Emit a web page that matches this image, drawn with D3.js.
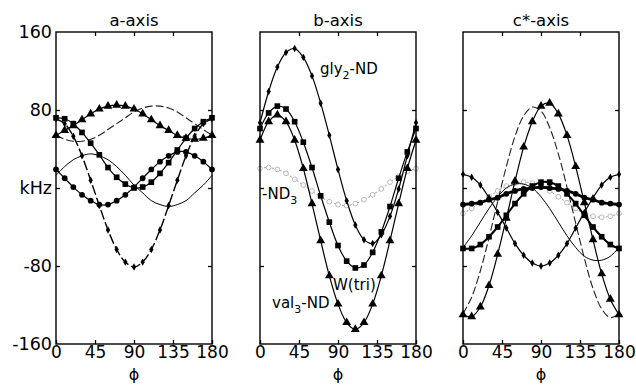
<!DOCTYPE html>
<html>
<head>
<meta charset="utf-8">
<script src="https://cdn.jsdelivr.net/npm/d3@7"></script>
<style>
  body { margin: 0; background: #fff; }
  text { font-family: "DejaVu Sans", sans-serif; fill: #000; }
</style>
</head>
<body>
<div id="chart"></div>
<script>
const width = 636;
const height = 385;

// rotation angle (deg) of every sample
const phi = [0, 10, 20, 30, 40, 50, 60, 70, 80, 90, 100, 110, 120, 130, 140, 150, 160, 170, 180];
const xTicks = [0, 45, 90, 135, 180];
const yTicks = [-160, -80, 0, 80, 160];
const yTickLabels = ["-160", "-80", "kHz", "80", "160"];
const panelTitles = ["a-axis", "b-axis", "c*-axis"];

// a-axis splittings (kHz)
const aTri   = [54, 59, 64, 70, 76, 81, 84, 85, 84, 81, 76, 70, 64, 59, 54, 51, 50, 51, 54];
const aDash  = [54, 50, 48, 48, 50, 54, 60, 66, 72, 78, 82, 84, 84, 82, 78, 72, 66, 60, 54];
const aSq    = [72, 71, 66, 57, 46, 34, 21, 11, 4, 0, 1, 6, 15, 26, 39, 51, 61, 68, 72];
const aCirc  = [19, 10, 1, -7, -13, -17, -17, -13, -7, 1, 10, 19, 27, 33, 37, 37, 33, 27, 19];
const aV     = [71, 66, 53, 33, 8, -18, -43, -63, -76, -81, -76, -63, -43, -18, 8, 33, 53, 66, 71];
const aThin  = [13, 22, 29, 33, 35, 33, 29, 22, 13, 3, -5, -13, -17, -19, -17, -13, -5, 3, 13];

// b-axis splittings (kHz)
const bGly   = [67, 99, 124, 139, 143, 134, 115, 87, 54, 19, -13, -38, -53, -57, -48, -29, -1, 33, 67];
const bSq    = [61, 77, 84, 81, 68, 47, 21, -8, -35, -59, -75, -82, -79, -66, -45, -19, 10, 37, 61];
const bTri   = [49, 68, 75, 68, 49, 20, -16, -54, -90, -119, -138, -145, -138, -119, -90, -54, -16, 20, 49];
const bOpen  = [20, 21, 19, 15, 9, 3, -3, -9, -14, -17, -18, -16, -12, -7, -1, 6, 12, 17, 20];

// c*-axis splittings (kHz)
const cTri   = [-130, -132, -122, -100, -68, -31, 7, 42, 68, 84, 87, 76, 54, 22, -15, -53, -88, -114, -130];
const cDash  = [-129, -112, -85, -51, -14, 22, 53, 74, 83, 79, 62, 35, 1, -36, -72, -103, -124, -133, -129];
const cDia   = [14, 11, 3, -10, -25, -41, -57, -69, -77, -80, -77, -69, -57, -41, -25, -10, 3, 11, 14];
const cSq    = [-62, -62, -58, -50, -40, -28, -16, -6, 2, 6, 6, 2, -6, -16, -28, -40, -50, -58, -62];
const cThick = [-17, -16, -15, -12, -10, -6, -3, -1, 0, 1, 0, -1, -3, -6, -10, -12, -15, -16, -17];
const cThin  = [-61, -49, -35, -21, -9, 0, 4, 4, 0, -9, -21, -35, -49, -61, -70, -74, -74, -70, -61];
const cOpen  = [-26, -21, -15, -9, -3, 2, 5, 6, 5, 2, -3, -9, -15, -21, -26, -29, -30, -29, -26];

// line / marker styles
const styles = {
  tri:   { stroke: "#000", sw: 1.2, dash: null, mark: "tri" },
  sq:    { stroke: "#000", sw: 1.2, dash: null, mark: "sq" },
  circ:  { stroke: "#000", sw: 1.2, dash: null, mark: "circ" },
  dot:   { stroke: "#000", sw: 1.2, dash: null, mark: "dot" },
  vdash: { stroke: "#000", sw: 1.4, dash: "10,3", mark: "dot" },
  dash:  { stroke: "#222", sw: 1.1, dash: "8,3", mark: null },
  thin:  { stroke: "#000", sw: 1, dash: null, mark: null },
  open:  { stroke: "#999", sw: 1, dash: "2,2", mark: "open" },
  thick: { stroke: "#000", sw: 2.8, dash: null, mark: "circ" },
  sqth:  { stroke: "#000", sw: 2, dash: null, mark: "sq" }
};

const panels = [
  { left: 56, series: [[aDash, "dash"], [aThin, "thin"], [aCirc, "circ"], [aSq, "sq"], [aV, "vdash"], [aTri, "tri"]] },
  { left: 260, series: [[bOpen, "open"], [bGly, "dot"], [bSq, "sq"], [bTri, "tri"]] },
  { left: 463, series: [[cOpen, "open"], [cDash, "dash"], [cThin, "thin"], [cThick, "thick"], [cSq, "sqth"], [cDia, "dot"], [cTri, "tri"]] }
];

const panelWidth = 156;

const y = d3.scaleLinear().domain([-160, 160]).range([344, 32]);

const svg = d3.select("#chart")
  .append("svg")
  .attr("width", width)
  .attr("height", height);

const symbols = {
  tri:  d3.symbol().type(d3.symbolTriangle).size(34),
  sq:   d3.symbol().type(d3.symbolSquare).size(32),
  circ: d3.symbol().type(d3.symbolCircle).size(26),
  dot:  d3.symbol().type(d3.symbolDiamond).size(16),
  open: d3.symbol().type(d3.symbolCircle).size(18)
};

panels.forEach(function(p, i) {
  const x = d3.scaleLinear().domain([0, 180]).range([p.left, p.left + panelWidth]);
  const g = svg.append("g");

  const line = d3.line()
    .x(function(d, k) { return x(phi[k]); })
    .y(function(d) { return y(d); })
    .curve(d3.curveCatmullRom);

  p.series.forEach(function(s) {
    const vals = s[0];
    const st = styles[s[1]];
    g.append("path")
      .attr("d", line(vals))
      .attr("fill", "none")
      .attr("stroke", st.stroke)
      .attr("stroke-width", st.sw)
      .attr("stroke-dasharray", st.dash);

    if (st.mark) {
      g.selectAll(null)
        .data(vals)
        .enter()
        .append("path")
        .attr("d", symbols[st.mark])
        .attr("transform", function(d, k) { return "translate(" + x(phi[k]) + "," + y(d) + ")"; })
        .attr("fill", st.mark == "open" ? "#fff" : "#000")
        .attr("stroke", st.mark == "open" ? "#aaa" : "none")
        .attr("stroke-width", 0.8);
    }
  });

  // frame
  g.append("rect")
    .attr("x", p.left)
    .attr("y", y(160))
    .attr("width", panelWidth)
    .attr("height", y(-160) - y(160))
    .attr("fill", "none")
    .attr("stroke", "#000")
    .attr("stroke-width", 1.4);

  // inward ticks
  const bottom = g.append("g")
    .attr("transform", "translate(0," + y(-160) + ")")
    .call(d3.axisBottom(x).tickValues(xTicks).tickSizeInner(-4).tickSizeOuter(0).tickPadding(2));
  bottom.select(".domain").remove();
  bottom.selectAll("text").style("font-size", "17px").style("font-family", "DejaVu Sans");

  g.append("g")
    .attr("transform", "translate(0," + y(160) + ")")
    .call(d3.axisTop(x).tickValues([45, 90, 135]).tickSizeInner(-4).tickSizeOuter(0).tickFormat(""))
    .select(".domain").remove();

  const leftAx = g.append("g")
    .attr("transform", "translate(" + p.left + ",0)")
    .call(d3.axisLeft(y).tickValues([-80, 0, 80]).tickSizeInner(-4).tickSizeOuter(0).tickFormat(""));
  leftAx.select(".domain").remove();

  g.append("g")
    .attr("transform", "translate(" + (p.left + panelWidth) + ",0)")
    .call(d3.axisRight(y).tickValues([-80, 0, 80]).tickSizeInner(-4).tickSizeOuter(0).tickFormat(""))
    .select(".domain").remove();

  g.selectAll(".tick line").attr("stroke-width", 1.3);

  // title
  g.append("text")
    .attr("x", p.left + panelWidth / 2)
    .attr("y", 26)
    .attr("text-anchor", "middle")
    .style("font-size", "16.5px")
    .text(panelTitles[i]);

  // phi label
  g.append("text")
    .attr("x", p.left + panelWidth / 2)
    .attr("y", 380)
    .attr("text-anchor", "middle")
    .style("font-size", "16px")
    .text("ϕ");
});

// y tick labels on the first panel only
svg.append("g")
  .selectAll("text")
  .data(yTicks)
  .enter()
  .append("text")
  .attr("x", 52)
  .attr("y", function(d) { return y(d); })
  .attr("dy", "0.36em")
  .attr("text-anchor", "end")
  .style("font-size", "17.5px")
  .text(function(d, i) { return yTickLabels[i]; });

// curve labels in the b-axis panel
function subLabel(xp, yp, pre, sub, post) {
  const t = svg.append("text").attr("x", xp).attr("y", yp).style("font-size", "15px");
  t.append("tspan").text(pre);
  t.append("tspan").attr("dy", 5).style("font-size", "11px").text(sub);
  if (post) t.append("tspan").attr("dy", -5).text(post);
}
subLabel(320, 74, "gly", "2", "-ND");
subLabel(262, 199, "-ND", "3", "");
subLabel(272, 308, "val", "3", "-ND");
svg.append("text").attr("x", 333).attr("y", 290).style("font-size", "15px").text("W(tri)");
</script>
</body>
</html>
